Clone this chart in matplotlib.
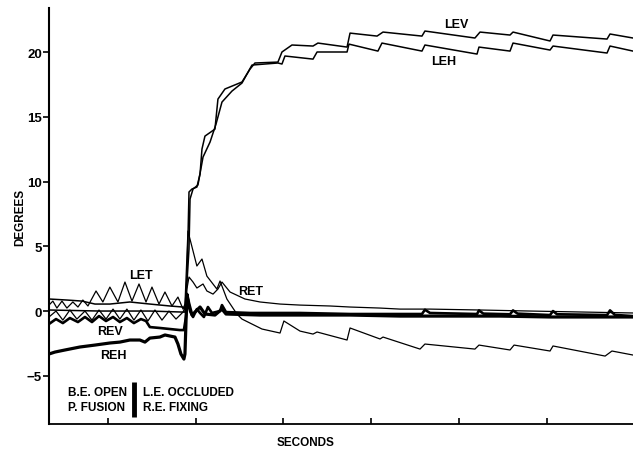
import matplotlib
matplotlib.use("Agg")
import matplotlib.pyplot as plt

plt.rcParams["font.family"] = ["Liberation Sans", "DejaVu Sans"]

# eye position traces, time in seconds, position in degrees
lev_t = [-3.36, -2.34, -1.48, -0.74, 0.11, 1.25, 2.39, 3.53, 4.28, 4.39,
         4.50, 4.56, 4.62, 4.79, 5.07, 5.25, 5.36, 5.53, 6.10, 6.27, 6.67,
         7.64, 8.10, 8.38, 9.69, 9.92, 10.49, 11.69, 11.97, 13.63, 13.80,
         15.34, 15.68, 17.90, 18.07, 20.92, 21.21, 22.92, 23.09, 25.20,
         25.37, 28.45, 28.62, 29.93]
lev_v = [0.93, 0.85, 0.77, 0.54, 0.54, 0.70, 0.54, 0.39, 0.31, 0.15,
         2.47, 5.56, 9.20, 9.43, 9.58, 10.59, 12.52, 13.52, 14.06, 16.38,
         17.16, 17.70, 18.70, 19.17, 19.24, 20.02, 20.56, 20.48, 20.71,
         20.40, 21.48, 21.25, 21.56, 21.25, 21.64, 21.10, 21.56, 21.33,
         21.56, 20.87, 21.33, 21.02, 21.41, 21.10]

leh_t = [-3.36, -0.46, 2.39, 4.28, 4.39, 4.50, 4.62, 4.68, 4.85, 5.13,
         5.42, 5.82, 6.16, 6.50, 7.07, 7.64, 8.21, 9.69, 9.92, 10.09, 11.69,
         11.92, 13.63, 13.74, 15.39, 15.62, 17.90, 18.07, 21.04, 21.15,
         22.92, 23.09, 25.20, 25.37, 28.45, 28.62, 29.93]
leh_v = [0.08, 0.0, 0.0, -0.08, -0.08, 2.09, 4.79, 8.66, 9.43, 9.74,
         11.90, 13.06, 14.45, 16.15, 17.00, 17.62, 19.01, 19.17, 19.09,
         19.71, 19.47, 20.02, 20.02, 20.63, 20.09, 20.71, 20.09, 20.56,
         19.86, 20.40, 20.09, 20.71, 20.17, 20.48, 19.94, 20.48, 20.09]

let_t = [-3.36, -3.14, -2.91, -2.62, -2.34, -2.00, -1.71, -1.43, -1.14,
         -0.68, -0.29, 0.11, 0.57, 0.97, 1.37, 1.77, 2.17, 2.51, 2.91, 3.25,
         3.65, 3.99, 4.28, 4.39, 4.56, 5.07, 5.36, 5.64, 6.21, 6.39, 6.78,
         7.35, 7.64, 8.78, 9.81, 10.03, 10.95, 11.69, 11.92, 13.63, 13.80,
         15.51, 15.68, 17.79, 18.07, 20.92, 21.15, 22.92, 23.15, 25.20,
         25.37, 28.34, 28.73, 29.93]
let_v = [0.46, 0.77, 0.23, 0.77, 0.23, 0.70, 0.31, 0.85, 0.39, 1.55, 0.70,
         1.85, 0.70, 2.24, 0.77, 2.09, 0.70, 1.85, 0.54, 1.47, 0.39, 1.08,
         0.15, 0.54, 6.18, 3.48, 4.02, 2.70, 1.70, 2.32, 0.93, -0.23, -0.62,
         -1.39, -1.70, -0.77, -1.55, -1.78, -1.62, -2.24, -1.31, -2.16,
         -2.01, -2.94, -2.55, -2.94, -2.63, -3.01, -2.63, -3.09, -2.70,
         -3.48, -3.09, -3.40]

ret_t = [-3.36, -2.96, -2.57, -2.17, -1.77, -1.31, -0.91, -0.51, -0.11,
         0.29, 0.68, 1.08, 1.48, 1.88, 2.28, 2.68, 3.08, 3.48, 3.88, 4.28,
         4.45, 4.50, 4.62, 4.85, 5.07, 5.42, 5.64, 5.99, 6.27, 6.50, 6.96,
         7.81, 8.67, 9.81, 10.95, 12.66, 13.80, 15.51, 16.65, 18.36, 21.21,
         24.06, 29.93]
ret_v = [-0.46, 0.0, -0.70, 0.08, -0.62, 0.0, -0.70, 0.08, -0.62, 0.15,
         -0.62, 0.15, -0.70, 0.08, -0.77, 0.08, -0.70, 0.0, -0.62, -0.08,
         0.46, 1.70, 2.63, 2.24, 1.78, 2.09, 1.55, 1.31, 1.70, 2.24, 1.47,
         0.93, 0.70, 0.54, 0.46, 0.39, 0.31, 0.23, 0.15, 0.15, 0.08, 0.0,
         -0.15]

rev_t = [-3.36, -2.96, -2.57, -2.17, -1.71, -1.31, -0.91, -0.51, -0.11,
         0.29, 0.68, 1.08, 1.48, 1.88, 2.17, 2.39, 2.96, 3.53, 4.10, 4.33,
         4.45, 4.56, 4.68, 4.85, 5.07, 5.25, 5.47, 5.70, 5.93, 6.39, 6.50,
         6.73, 8.10, 10.95, 13.80, 16.65, 17.90, 18.07, 18.36, 21.04, 21.15,
         21.40, 22.92, 23.09, 23.35, 25.20, 25.37, 25.60, 28.45, 28.62,
         28.90, 29.93]
rev_v = [-1.00, -0.62, -0.93, -0.54, -0.85, -0.46, -0.85, -0.39, -0.77,
         -0.46, -0.85, -0.54, -0.93, -0.62, -0.77, -1.24, -1.31, -1.39,
         -1.47, -1.47, -0.46, 0.93, 0.0, -0.46, 0.15, -0.15, -0.46, 0.31,
         -0.15, 0.0, 0.46, -0.08, -0.15, -0.15, -0.23, -0.23, -0.23, 0.10,
         -0.15, -0.23, 0.05, -0.20, -0.25, 0.05, -0.20, -0.31, 0.0, -0.25,
         -0.31, 0.05, -0.30, -0.39]

reh_t = [-3.36, -3.02, -2.45, -1.60, -0.74, 0.11, 0.68, 1.25, 1.82, 2.11,
         2.39, 2.96, 3.25, 3.53, 3.82, 3.99, 4.16, 4.33, 4.39, 4.50, 4.62,
         4.79, 5.02, 5.25, 5.53, 6.10, 6.50, 6.73, 8.67, 10.95, 13.80,
         16.65, 19.50, 22.35, 25.20, 28.05, 29.93]
reh_v = [-3.32, -3.17, -3.01, -2.78, -2.63, -2.47, -2.40, -2.24, -2.24,
         -2.40, -2.09, -2.01, -1.85, -1.93, -2.01, -2.55, -3.32, -3.71,
         -3.32, 1.31, 0.54, -0.31, 0.0, 0.31, -0.23, -0.31, 0.15, -0.23,
         -0.31, -0.31, -0.31, -0.39, -0.39, -0.39, -0.46, -0.46, -0.46]

fig = plt.figure(figsize=(6.33, 4.52), dpi=100)
ax = fig.add_axes([49 / 633, 1 - 425 / 452, 584 / 633, 416 / 452])

ax.plot(lev_t, lev_v, color="black", linewidth=1.1)
ax.plot(leh_t, leh_v, color="black", linewidth=1.1)
ax.plot(let_t, let_v, color="black", linewidth=0.9)
ax.plot(ret_t, ret_v, color="black", linewidth=0.9)
ax.plot(rev_t, rev_v, color="black", linewidth=1.9)
ax.plot(reh_t, reh_v, color="black", linewidth=2.3)

ax.set_xlim(-3.36, 29.93)
ax.set_ylim(-8.73, 23.42)

for side in ("top", "right"):
    ax.spines[side].set_visible(False)
ax.spines["left"].set_linewidth(1.5)
ax.spines["bottom"].set_linewidth(1.3)

ax.set_yticks([-5, 0, 5, 10, 15, 20])
ax.set_xticks([0, 5, 10, 15, 20, 25])
ax.set_xticklabels([])
ax.tick_params(axis="y", direction="out", length=4, width=1.2, pad=1,
               labelsize=9.5)
ax.tick_params(axis="x", direction="in", length=4, width=1.2)
for lbl in ax.get_yticklabels():
    lbl.set_fontweight("bold")

ax.text(-0.05, 0.5, "DEGREES", transform=ax.transAxes, rotation=90,
        ha="center", va="center", fontsize=8.5, fontweight="bold")
ax.text(0.44, -0.043, "SECONDS", transform=ax.transAxes,
        ha="center", va="center", fontsize=8.5, fontweight="bold")

# trace names
lab = dict(ha="center", va="center", fontsize=9, fontweight="bold")
ax.text(1.88, 2.78, "LET", **lab)
ax.text(0.11, -1.55, "REV", **lab)
ax.text(0.29, -3.40, "REH", **lab)
ax.text(8.15, 1.55, "RET", **lab)
ax.text(19.84, 22.18, "LEV", **lab)
ax.text(19.16, 19.32, "LEH", **lab)

# condition key
key = dict(ha="left", va="center", fontsize=8.5, fontweight="bold")
ax.text(-2.28, -6.26, "B.E. OPEN", **key)
ax.text(-2.28, -7.42, "P. FUSION", **key)
ax.text(2.0, -6.26, "L.E. OCCLUDED", **key)
ax.text(2.0, -7.42, "R.E. FIXING", **key)
ax.vlines(1.48, -8.19, -5.49, color="black", linewidth=3.5)

plt.savefig("out.png", dpi=100)
plt.close()
